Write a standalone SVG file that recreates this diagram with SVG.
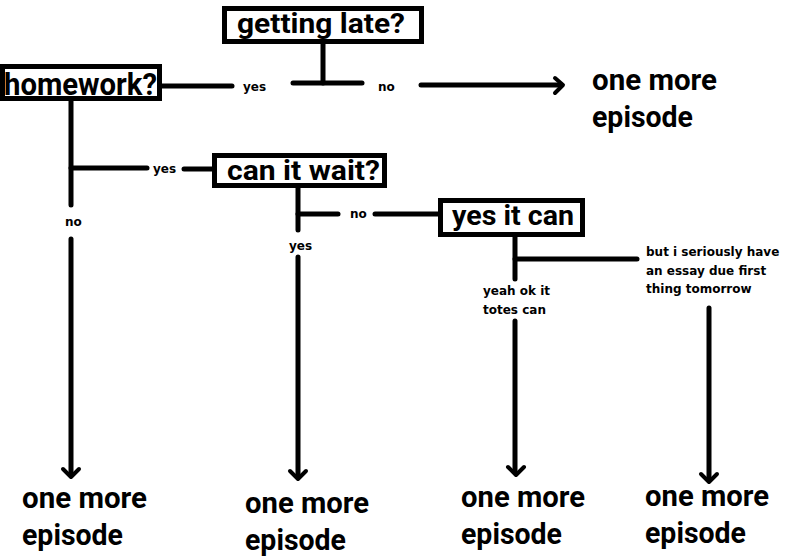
<svg xmlns="http://www.w3.org/2000/svg" width="798" height="559" viewBox="0 0 798 559">
<style>
.box{fill:#fff;stroke:#000;stroke-width:5}
.ln{stroke:#000;stroke-width:5;stroke-linecap:round;fill:none}
.ah{stroke:#000;stroke-width:4;stroke-linecap:round;stroke-linejoin:round;fill:none}
.big{font-family:Roboto,"DejaVu Sans",sans-serif;font-weight:bold;fill:#000}
.sm{font-family:"DejaVu Sans",Verdana,sans-serif;font-weight:bold;font-size:12px;fill:#000}
.ep{font-size:29px}
</style>
<rect width="798" height="559" fill="#fff"/>
<g id="connectors">
  <line class="ln" x1="162" y1="86" x2="232" y2="86"/>
  <line class="ln" x1="323" y1="44" x2="323" y2="83"/>
  <line class="ln" x1="293" y1="83" x2="362" y2="83"/>
  <line class="ln" x1="421" y1="85" x2="561" y2="85"/>
  <polyline class="ah" points="555,78 563,85 555,93"/>
  <line class="ln" x1="71" y1="101" x2="71" y2="205"/>
  <line class="ln" x1="71" y1="168" x2="147" y2="168"/>
  <line class="ln" x1="184" y1="169" x2="213" y2="169"/>
  <line class="ln" x1="71" y1="239" x2="71" y2="475"/>
  <polyline class="ah" points="63,469 71,477 79,469"/>
  <line class="ln" x1="298" y1="188" x2="298" y2="230"/>
  <line class="ln" x1="298" y1="214" x2="338" y2="214"/>
  <line class="ln" x1="375" y1="214" x2="438" y2="214"/>
  <line class="ln" x1="298" y1="257" x2="298" y2="477"/>
  <polyline class="ah" points="290,471 298,479 306,471"/>
  <line class="ln" x1="515" y1="237" x2="515" y2="279"/>
  <line class="ln" x1="515" y1="259" x2="637" y2="259"/>
  <line class="ln" x1="515" y1="321" x2="515" y2="472"/>
  <polyline class="ah" points="508,467 516,475 524,467"/>
  <line class="ln" x1="709" y1="308" x2="709" y2="480"/>
  <polyline class="ah" points="701,474 709,482 717,474"/>
  <text class="sm" x="243" y="91">yes</text>
  <text class="sm" x="378" y="91">no</text>
  <text class="sm" x="153" y="173">yes</text>
  <text class="sm" x="65" y="226">no</text>
  <text class="sm" x="350" y="218">no</text>
  <text class="sm" x="289" y="250">yes</text>
  <text class="sm" x="483" y="295">yeah ok it</text>
  <text class="sm" x="483" y="314">totes can</text>
  <text class="sm" x="646" y="256">but i seriously have</text>
  <text class="sm" x="646" y="275">an essay due first</text>
  <text class="sm" x="646" y="293">thing tomorrow</text>
</g>
<g id="getting-late">
  <rect class="box" x="224.5" y="8.5" width="197" height="33"/>
  <text class="big" x="237" y="33" font-size="27" textLength="168" lengthAdjust="spacingAndGlyphs">getting late?</text>
</g>
<g id="homework">
  <rect class="box" x="2.5" y="66.5" width="157" height="32"/>
  <text class="big" x="4" y="95" font-size="32" textLength="153" lengthAdjust="spacingAndGlyphs">homework?</text>
</g>
<g id="can-it-wait">
  <rect class="box" x="214.5" y="155.5" width="170" height="30"/>
  <text class="big" x="227" y="180" font-size="27" textLength="153" lengthAdjust="spacingAndGlyphs">can it wait?</text>
</g>
<g id="yes-it-can">
  <rect class="box" x="440.5" y="200.5" width="142" height="34"/>
  <text class="big" x="452" y="225" font-size="27" textLength="122" lengthAdjust="spacingAndGlyphs">yes it can</text>
</g>
<g id="episode-top">
  <text class="big ep" x="592" y="90" textLength="125" lengthAdjust="spacingAndGlyphs">one more</text>
  <text class="big ep" x="592" y="127" textLength="101" lengthAdjust="spacingAndGlyphs">episode</text>
</g>
<g id="episode-1">
  <text class="big ep" x="22" y="508" textLength="125" lengthAdjust="spacingAndGlyphs">one more</text>
  <text class="big ep" x="22" y="545" textLength="101" lengthAdjust="spacingAndGlyphs">episode</text>
</g>
<g id="episode-2">
  <text class="big ep" x="245" y="513" textLength="124" lengthAdjust="spacingAndGlyphs">one more</text>
  <text class="big ep" x="245" y="550" textLength="101" lengthAdjust="spacingAndGlyphs">episode</text>
</g>
<g id="episode-3">
  <text class="big ep" x="461" y="507" textLength="124" lengthAdjust="spacingAndGlyphs">one more</text>
  <text class="big ep" x="461" y="544" textLength="101" lengthAdjust="spacingAndGlyphs">episode</text>
</g>
<g id="episode-4">
  <text class="big ep" x="645" y="506" textLength="124" lengthAdjust="spacingAndGlyphs">one more</text>
  <text class="big ep" x="645" y="543" textLength="101" lengthAdjust="spacingAndGlyphs">episode</text>
</g>
</svg>
